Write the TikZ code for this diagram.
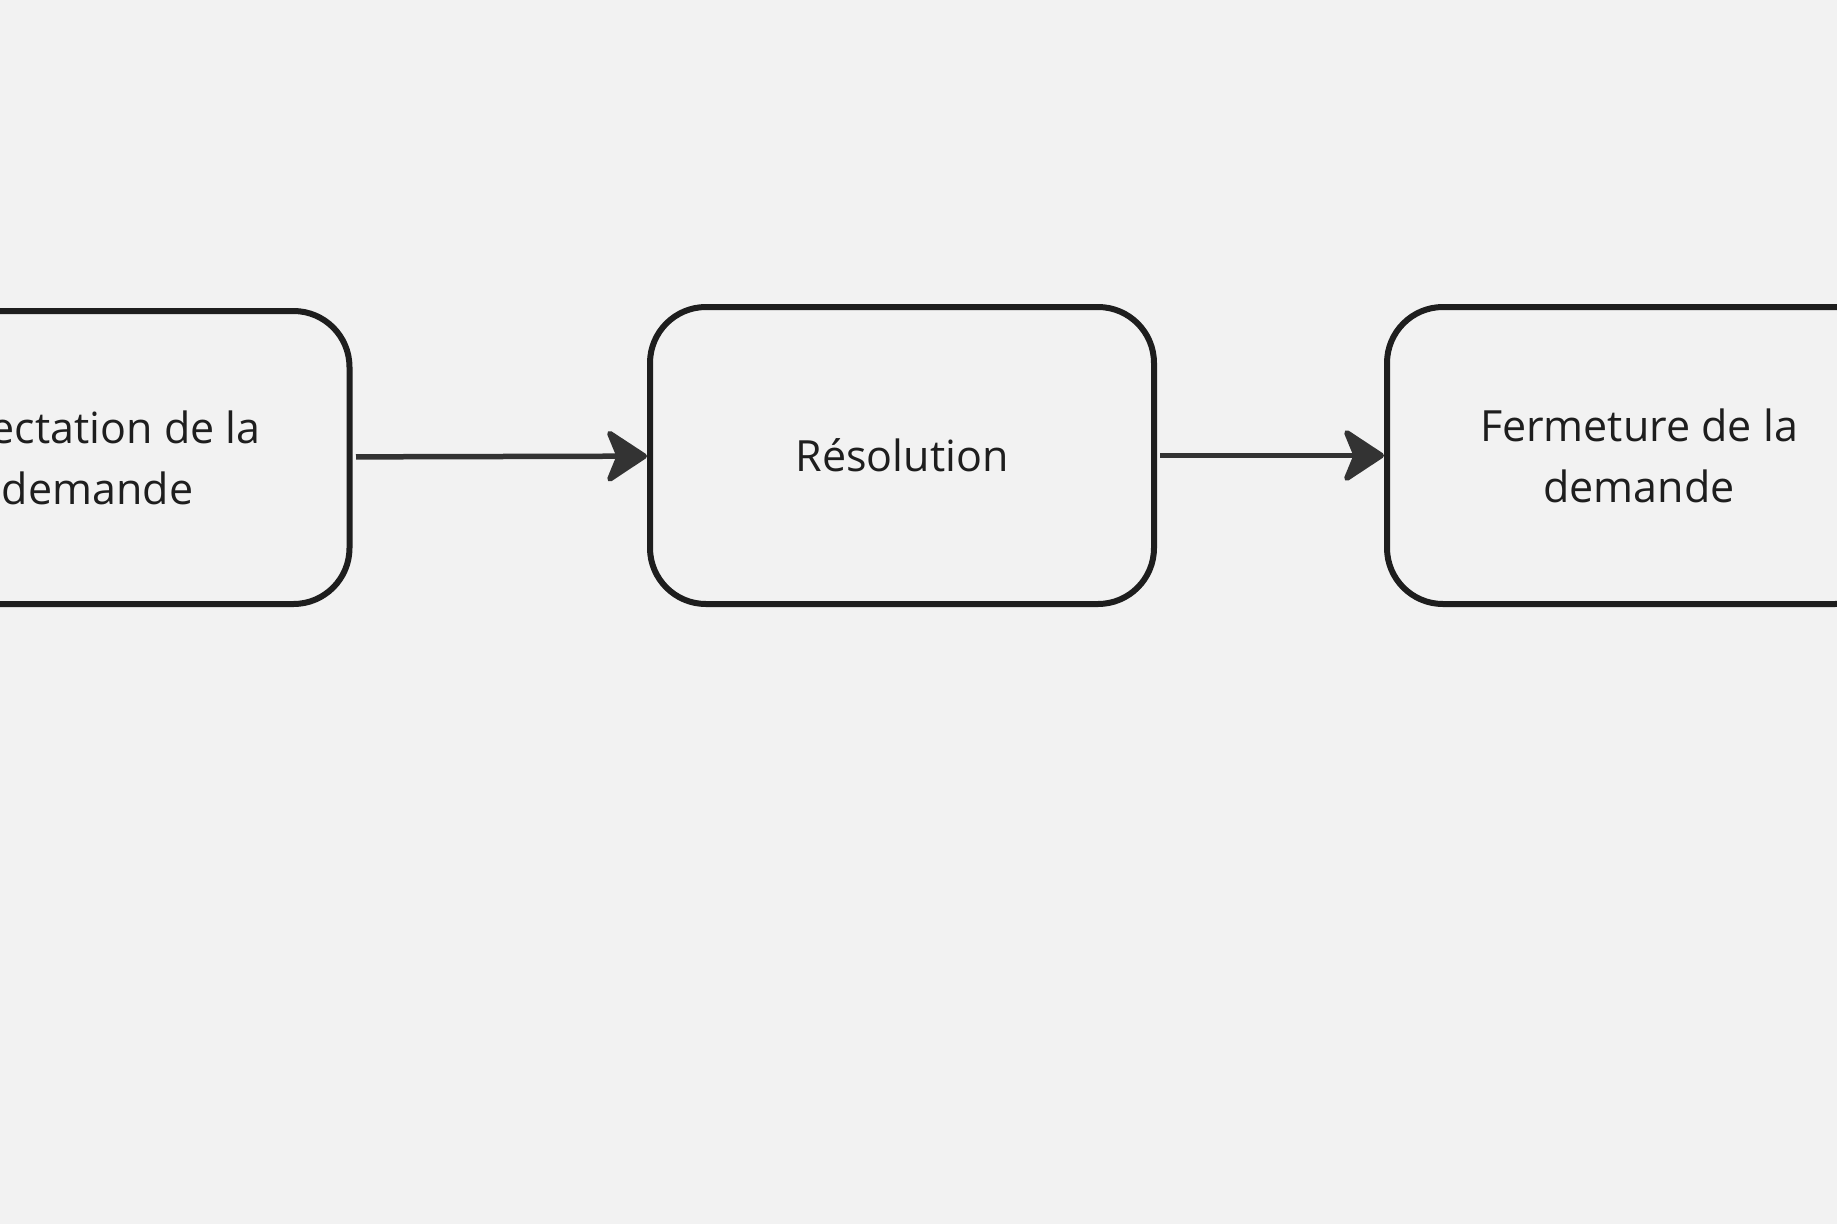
\documentclass[tikz,border=0pt]{standalone}
\usepackage{fontspec}
\setmainfont{Open Sans}
\usetikzlibrary{arrows.meta,positioning}
\definecolor{bgcol}{HTML}{F2F2F2}
\definecolor{edgecol}{HTML}{1E1E1E}
\definecolor{arrowcol}{HTML}{333333}

\begin{document}
\begin{tikzpicture}[x=1pt,y=-1pt,
	stage/.style={draw=edgecol,line width=6pt,rounded corners=56pt,
		minimum width=504pt,minimum height=297pt,inner sep=0pt,
		align=center,text=edgecol,font=\fontsize{43}{61}\selectfont},
	flow/.style={draw=arrowcol,line width=5.5pt,
		-{Stealth[length=45pt,width=59pt,inset=12pt,round]}}]
		\useasboundingbox (0,0) rectangle (1837,1224);
		\fill[bgcol] (0,0) rectangle (1837,1224);
		\clip (0,0) rectangle (1837,1224);
		
		\node[stage] (resol) at (902,455.5) {Résolution};
		\node[stage,minimum height=293pt,left=294.5pt of resol,yshift=-2pt] (affect) {Affectation de la\\demande};
		\node[stage,right=227pt of resol] (ferme) {Fermeture de la\\demande};
		
		\draw[flow,shorten <=3.5pt] (affect) -- (resol);
		\draw[flow,shorten <=3pt] (resol) -- (ferme);
	\end{tikzpicture}
\end{document}
